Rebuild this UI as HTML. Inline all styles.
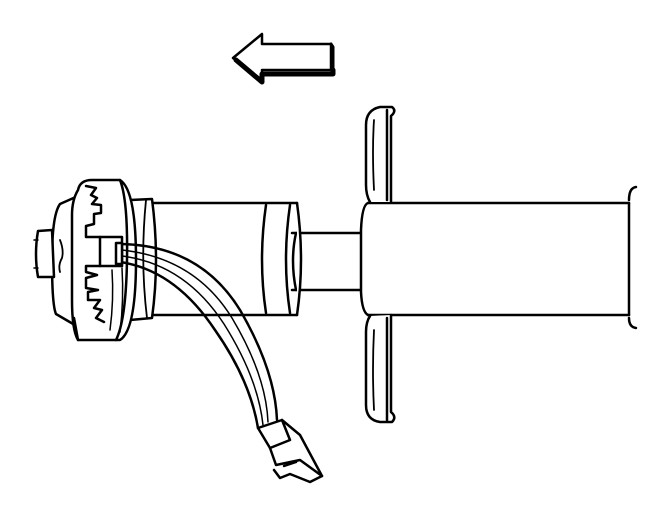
<!DOCTYPE html>
<html><head><style>html,body{margin:0;padding:0;background:#fff}svg{display:block}</style></head>
<body>
<svg width="672" height="518" viewBox="0 0 672 518" xmlns="http://www.w3.org/2000/svg" fill="none" stroke="#000" stroke-width="2.5" stroke-linejoin="round" stroke-linecap="round">
<!-- arrow -->
<path d="M233 58 L262 34 L262 44 L331 44 L331 70 L262 70 L262 80 Z" fill="#fff"/>
<path d="M236 60 L262 82 L262 74 L333 74 L333 70" stroke-width="5"/>
<path d="M331 44 L333 47 L333 72" stroke-width="3"/>
<!-- big right cylinder -->
<path d="M368 203 L629 203"/>
<path d="M368 315 L629 315"/>
<path d="M629 203 L629 315"/>
<path d="M636 187 Q629 188 629 200 M629 318 Q629 327 636 328" />
<!-- shaft -->
<path d="M292 233 L362 233"/><path d="M292 290 L362 290"/>
<path d="M296 233 Q290 260 296 290"/>
<!-- collar -->
<path d="M368 203 Q362 205 361 230 L361 292 Q362 312 368 315" fill="#fff"/>
<!-- flanges -->
<path d="M370 202 Q366 195 366 185 L366 125 Q366 110 380 107 L392 107 Q396 110 393 114 L391 116 L391 202" fill="#fff"/>
<path d="M387 110 L387 200"/>
<path d="M374 120 Q372 150 374 190" stroke-width="1.8"/>
<path d="M370 316 Q366 322 366 332 L366 405 Q366 420 380 422 L392 422 Q396 418 393 414 L391 412 L391 315" fill="#fff"/>
<path d="M387 318 L387 420"/>
<path d="M374 330 Q372 370 374 410" stroke-width="1.8"/>
<!-- middle cylinder -->
<path d="M150 203 L297 203"/><path d="M150 315 L297 315"/>
<path d="M297 203 Q305 260 297 315" fill="#fff"/>
<path d="M290 205 Q282 260 290 313"/>
<path d="M266 205 Q258 260 266 313"/>
<!-- collar behind disc -->
<path d="M130 200 L152 199 Q160 260 152 318 L130 320 Z" fill="#fff"/>
<path d="M146 200 Q140 260 147 318" stroke-width="1.8"/>
<!-- disc back plate -->
<path d="M78 196 L60 204 Q52 215 52 260 Q52 305 56 314 L80 328" fill="#fff"/>
<path d="M60 240 Q64 250 62 258 Q58 265 60 272" stroke-width="1.8"/>
<!-- disc drum -->
<path d="M78 190 Q80 180 92 180 L120 180 Q136 190 136 260 Q136 330 120 340 L78 340 Q72 330 72 300 L72 215 Q72 200 78 190Z" fill="#fff"/>
<path d="M120 180 Q128 200 127 260 Q126 320 116 340"/>
<path d="M74 318 L78 340"/>
<path d="M86 186 L96 188 L91 195 L97 198 L92 204 L101 205 L101 213 L94 214 L94 224 L86 226 L86 237 L122 237 L122 266 L86 266 L86 272 L97 275 L86 278 L86 288 L98 290 L88 292 L88 300 L100 300 L94 308 L102 310 L96 318 L104 322"/>
<path d="M100 237 L100 266"/>
<path d="M112 270 Q114 300 110 330 M122 268 Q124 300 120 332" stroke-width="1.5"/>
<!-- nut -->
<path d="M38 231 L52 230 L54 277 L38 277 Q34 254 38 231Z" fill="#fff"/>
<path d="M34 240 L38 240 M34 268 L38 268" stroke-width="1.5"/>
<!-- wires -->
<path d="M120 244 Q200 245 240 310 Q275 370 277 420" stroke-width="2.5"/>
<path d="M120 262 Q175 270 215 330 Q250 380 258 428" stroke-width="2.5"/>
<path d="M122 250 Q195 258 232 318 Q266 375 268 422" stroke-width="1.5"/>
<path d="M122 256 Q185 264 224 324 Q258 378 263 425" stroke-width="1.5"/>
<path d="M116 243 L122 243 L122 264 L116 264 Z" fill="#fff"/>
<!-- connector -->
<path d="M258 428 L282 420 L290 440 L270 448 Z" fill="#fff"/>
<path d="M270 448 L276 465 L300 460 L322 476 L310 482 L290 474 L280 478 L274 470" fill="#fff"/>
<path d="M282 420 L300 435 L322 476"/>
<path d="M284 466 L296 462"/>
</svg>
</body></html>
